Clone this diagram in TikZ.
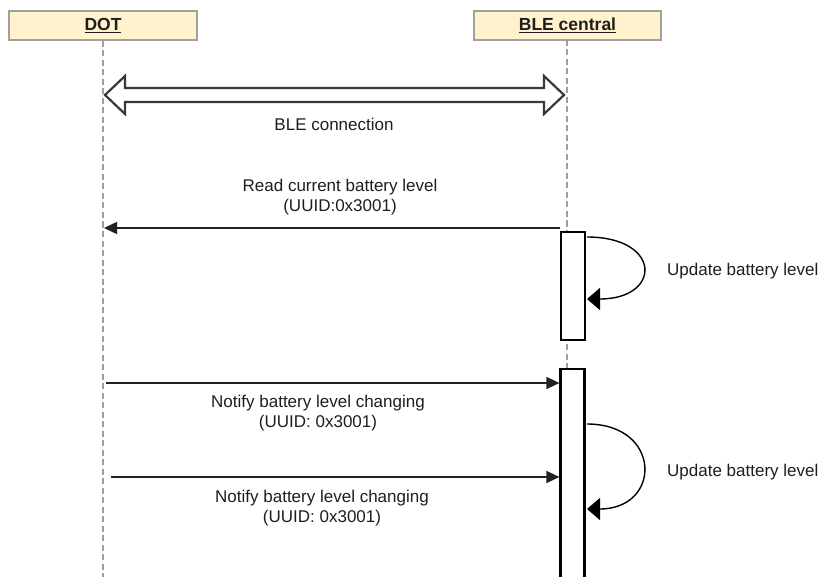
\documentclass[tikz,border=0pt]{standalone}
\usepackage{fontspec}
\setmainfont{Liberation Sans}
\usetikzlibrary{arrows.meta}
\definecolor{hdrfill}{HTML}{FFF2CC}
\definecolor{hdrdraw}{HTML}{A0A0A0}
\definecolor{lifecol}{HTML}{9E9E9E}
\definecolor{txtcol}{HTML}{1E1E1E}
\definecolor{linecol}{HTML}{222222}
\begin{document}
\begin{tikzpicture}[x=1pt,y=-1pt,
  font=\fontsize{17}{20}\selectfont,
  header/.style={draw=hdrdraw, line width=2pt, fill=hdrfill, minimum height=29pt, inner sep=0pt, text=txtcol, font=\fontsize{17.5}{20}\selectfont\bfseries},
  lifeline/.style={draw=lifecol, line width=2pt, dash pattern=on 6pt off 3.5pt},
  actbox/.style={draw=black, line width=2.2pt, fill=white, minimum width=24pt, inner sep=0pt},
  msg/.style={draw=linecol, line width=1.4pt, -{Triangle[length=13pt,width=12pt]}},
  selfmsg/.style={draw=black, line width=1.4pt, -{Triangle[length=13pt,width=22pt]}},
  lbl/.style={align=center, inner sep=0pt, text=txtcol},
  fatarrow/.style={draw=linecol!90, line width=2.2pt, fill=white, line join=miter}]
\useasboundingbox (0,0) rectangle (834,577);

% headers
\node[header, minimum width=188pt] (dot) at (103,25.5) {\underline{DOT}};
\node[header, minimum width=187pt] (ble) at (567.5,25.5) {\underline{BLE central}};

% lifelines
\coordinate (dotend) at (103,578);
\coordinate (bleend) at (567,578);
\draw[lifeline] (dot.south) -- (dotend);
\draw[lifeline] (567,40) -- (bleend);

% activation boxes
\node[actbox, minimum height=108pt] (act1) at (573,286) {};
\node[actbox, minimum height=220pt] (act2) at (572.5,479) {};

% BLE connection double arrow
\draw[fatarrow] (105,95) -- (125,76) -- (125,88) -- (544,88) -- (544,76) -- (564,95)
  -- (544,114) -- (544,102) -- (125,102) -- (125,114) -- cycle;
\node[lbl] (conn) at (334,124) {BLE connection};

% read message
\coordinate (m1a) at (560,228);
\coordinate (m1b) at (104,228);
\draw[msg] (m1a) -- (m1b);
\node[lbl] (m1l) at (340,197) {Read current battery level\\(UUID:0x3001)};

% self update 1
\coordinate (s1a) at (587,237);
\coordinate (s1b) at (587,299);
\draw[selfmsg] (s1a) .. controls (662,237) and (662,299) .. (s1b);
\node[lbl, anchor=west] (s1l) at (667,271) {Update battery level};

% notify 1
\coordinate (n1a) at (106,383);
\draw[msg] (n1a) -- (act2.west |- n1a);
\node[lbl] (n1l) at (318,413) {Notify battery level changing\\(UUID: 0x3001)};

% self update 2
\coordinate (s2a) at (587,424);
\coordinate (s2b) at (587,509);
\draw[selfmsg] (s2a) .. controls (662,424) and (662,509) .. (s2b);
\node[lbl, anchor=west] (s2l) at (667,472) {Update battery level};

% notify 2
\coordinate (n2a) at (111,477);
\draw[msg] (n2a) -- (act2.west |- n2a);
\node[lbl] (n2l) at (322,508) {Notify battery level changing\\(UUID: 0x3001)};
\end{tikzpicture}
\end{document}
